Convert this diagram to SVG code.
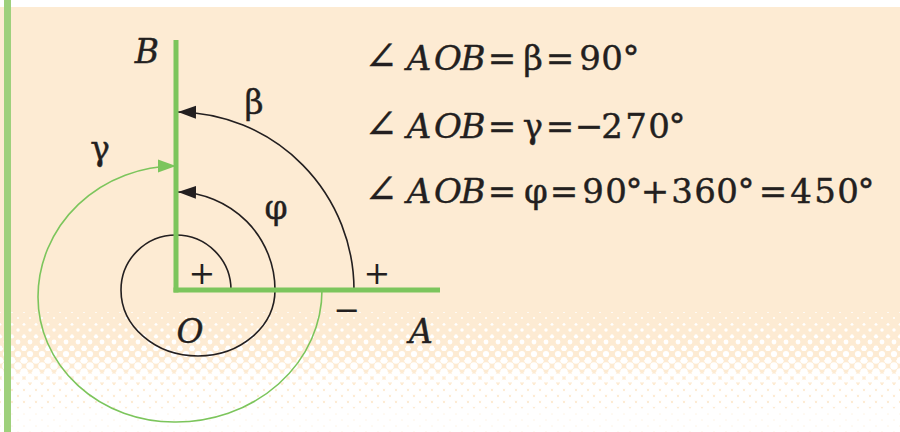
<svg xmlns="http://www.w3.org/2000/svg" width="900" height="432" viewBox="0 0 900 432">
<defs>
<style>
.ax{stroke:#7cc55c;stroke-width:5;fill:none}
.arc{stroke:#231f20;stroke-width:1.6;fill:none}
.garc{stroke:#7cc55c;stroke-width:1.6;fill:none}
.eq{font-family:"DejaVu Serif","Liberation Serif",serif;font-size:34px;fill:#231f20;stroke:#231f20;stroke-width:0.4;text-anchor:middle}
.ang{font-size:40px}
.pm{font-family:"DejaVu Serif","Liberation Serif",serif;font-size:32px;fill:#231f20;text-anchor:middle}
.lbl{font-family:"DejaVu Serif","Liberation Serif",serif;font-size:33px;fill:#231f20;stroke:#231f20;stroke-width:0.4;text-anchor:middle}
.it{font-style:italic}
.dot{fill:#ffffff}
</style>
<marker id="ab" markerUnits="userSpaceOnUse" markerWidth="20" markerHeight="14" refX="18" refY="6.5" orient="auto"><path d="M0,0 L18,6.5 L0,13 z" fill="#231f20"/></marker>
<marker id="ag" markerUnits="userSpaceOnUse" markerWidth="20" markerHeight="14" refX="18" refY="6.5" orient="auto"><path d="M0,0 L18,6.5 L0,13 z" fill="#7cc55c"/></marker>
<pattern id="p1" patternUnits="userSpaceOnUse" width="12" height="12"><circle class="dot" cx="0" cy="0" r="1"/><circle class="dot" cx="12" cy="0" r="1"/><circle class="dot" cx="0" cy="12" r="1"/><circle class="dot" cx="12" cy="12" r="1"/><circle class="dot" cx="6" cy="6" r="1"/></pattern>
<pattern id="p2" patternUnits="userSpaceOnUse" width="12" height="12"><circle class="dot" cx="0" cy="0" r="1.7"/><circle class="dot" cx="12" cy="0" r="1.7"/><circle class="dot" cx="0" cy="12" r="1.7"/><circle class="dot" cx="12" cy="12" r="1.7"/><circle class="dot" cx="6" cy="6" r="1.7"/></pattern>
<pattern id="p3" patternUnits="userSpaceOnUse" width="12" height="12"><circle class="dot" cx="0" cy="0" r="2.4"/><circle class="dot" cx="12" cy="0" r="2.4"/><circle class="dot" cx="0" cy="12" r="2.4"/><circle class="dot" cx="12" cy="12" r="2.4"/><circle class="dot" cx="6" cy="6" r="2.4"/></pattern>
<pattern id="p4" patternUnits="userSpaceOnUse" width="12" height="12"><circle class="dot" cx="0" cy="0" r="3.1"/><circle class="dot" cx="12" cy="0" r="3.1"/><circle class="dot" cx="0" cy="12" r="3.1"/><circle class="dot" cx="12" cy="12" r="3.1"/><circle class="dot" cx="6" cy="6" r="3.1"/></pattern>
<pattern id="p5" patternUnits="userSpaceOnUse" width="12" height="12"><circle class="dot" cx="0" cy="0" r="3.8"/><circle class="dot" cx="12" cy="0" r="3.8"/><circle class="dot" cx="0" cy="12" r="3.8"/><circle class="dot" cx="12" cy="12" r="3.8"/><circle class="dot" cx="6" cy="6" r="3.8"/></pattern>
<pattern id="p6" patternUnits="userSpaceOnUse" width="12" height="12"><circle class="dot" cx="0" cy="0" r="4.5"/><circle class="dot" cx="12" cy="0" r="4.5"/><circle class="dot" cx="0" cy="12" r="4.5"/><circle class="dot" cx="12" cy="12" r="4.5"/><circle class="dot" cx="6" cy="6" r="4.5"/></pattern>
<pattern id="p7" patternUnits="userSpaceOnUse" width="12" height="12"><circle class="dot" cx="0" cy="0" r="5.1"/><circle class="dot" cx="12" cy="0" r="5.1"/><circle class="dot" cx="0" cy="12" r="5.1"/><circle class="dot" cx="12" cy="12" r="5.1"/><circle class="dot" cx="6" cy="6" r="5.1"/></pattern>
<pattern id="p8" patternUnits="userSpaceOnUse" width="12" height="12"><circle class="dot" cx="0" cy="0" r="5.6"/><circle class="dot" cx="12" cy="0" r="5.6"/><circle class="dot" cx="0" cy="12" r="5.6"/><circle class="dot" cx="12" cy="12" r="5.6"/><circle class="dot" cx="6" cy="6" r="5.6"/></pattern>
</defs>
<g id="background">
<rect x="0" y="0" width="900" height="432" fill="#ffffff"/>
<rect x="0" y="7" width="900" height="425" fill="#fdebd3"/>
<rect x="0" y="312" width="900" height="12" fill="url(#p1)"/>
<rect x="0" y="324" width="900" height="12" fill="url(#p2)"/>
<rect x="0" y="336" width="900" height="12" fill="url(#p3)"/>
<rect x="0" y="348" width="900" height="12" fill="url(#p4)"/>
<rect x="0" y="360" width="900" height="12" fill="url(#p5)"/>
<rect x="0" y="372" width="900" height="12" fill="url(#p6)"/>
<rect x="0" y="384" width="900" height="24" fill="url(#p7)"/>
<rect x="0" y="408" width="900" height="24" fill="url(#p8)"/>
<rect x="4" y="0" width="7" height="432" fill="#9ed07c"/>
</g>
<g id="connectors">
<path id="arc-beta" class="arc" d="M354,290 A178,178 0 0 0 178,112" marker-end="url(#ab)"/>
<path id="arc-phi" class="arc" d="M231,290 A55,55 0 0 0 176,235 A55,55 0 0 0 121,290 A77,66 0 0 0 275,290 A99,98 0 0 0 178,192" marker-end="url(#ab)"/>
<path id="arc-gamma" class="garc" d="M322,290 A146,132 0 0 1 174,422 A136,125 0 0 1 38,297 A138,131 0 0 1 176,166" marker-end="url(#ag)"/>
</g>
<g id="rays">
<line id="ray-OB" class="ax" x1="176" y1="40" x2="176" y2="292.5"/>
<line id="ray-OA" class="ax" x1="173.5" y1="290" x2="440" y2="290"/>
</g>
<g id="labels">
<text id="label-B" class="lbl it" x="147" y="63">B</text>
<text id="label-O" class="lbl it" x="190" y="343">O</text>
<text id="label-A" class="lbl it" x="421" y="343">A</text>
<text id="label-beta" class="lbl" x="254" y="114">β</text>
<text id="label-gamma" class="lbl" x="100" y="160">γ</text>
<text id="label-phi" class="lbl" x="276" y="219">φ</text>
<text id="plus-inner" class="pm" x="202" y="284">+</text>
<text id="plus-outer" class="pm" x="377" y="284">+</text>
<text id="minus" class="pm" x="347" y="321">−</text>
</g>
<g id="equations">
<text id="eq1" class="eq" y="70"><tspan class="ang" x="381">∠</tspan><tspan class="it" x="419 448 473">AOB</tspan><tspan x="502 533 560 590 612 631">=β=90°</tspan></text>
<text id="eq2" class="eq" y="138"><tspan class="ang" x="381">∠</tspan><tspan class="it" x="419 448 473">AOB</tspan><tspan x="502 533 560 589 612 636 659 677">=γ=−270°</tspan></text>
<text id="eq3" class="eq" y="203"><tspan class="ang" x="381">∠</tspan><tspan class="it" x="419 448 473">AOB</tspan><tspan x="502 536 564 593 616 634 655 682 705 727 746 773 801 825 848 866">=φ=90°+360°=450°</tspan></text>
</g>
</svg>
